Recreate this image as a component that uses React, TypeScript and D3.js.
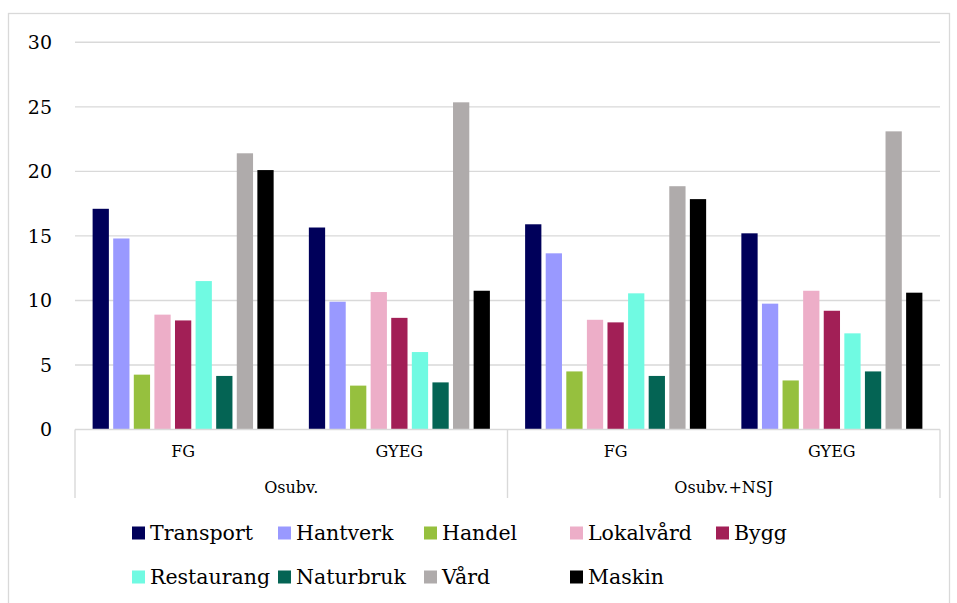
import React from "react";
import * as d3 from "d3";

const groups = ["Osubv.", "Osubv.+NSJ"];
const categories = ["Osubv.|FG", "Osubv.|GYEG", "Osubv.+NSJ|FG", "Osubv.+NSJ|GYEG"];
const seriesNames = ["Transport", "Hantverk", "Handel", "Lokalvård", "Bygg", "Restaurang", "Naturbruk", "Vård", "Maskin"];
const seriesColors = ["#00005a", "#9999ff", "#96c03e", "#edaec8", "#a21f56", "#70fae2", "#046454", "#afabab", "#000000"];
const transport = [17.1, 15.65, 15.9, 15.2];
const hantverk = [14.8, 9.9, 13.65, 9.75];
const handel = [4.25, 3.4, 4.5, 3.8];
const lokalvard = [8.9, 10.65, 8.5, 10.75];
const bygg = [8.45, 8.65, 8.3, 9.2];
const restaurang = [11.5, 6.0, 10.55, 7.45];
const naturbruk = [4.15, 3.65, 4.15, 4.5];
const vard = [21.4, 25.35, 18.85, 23.1];
const maskin = [20.1, 10.75, 17.85, 10.6];
const seriesValues = [transport, hantverk, handel, lokalvard, bygg, restaurang, naturbruk, vard, maskin];
const yTicks = [0, 5, 10, 15, 20, 25, 30];

const FONT = "'DejaVu Serif', Georgia, serif";

export default function App() {
  const left = 75, right = 940, top = 42.3, bottom = 429.5;
  const y = d3.scaleLinear().domain([0, 30]).range([bottom, top]);
  const x0 = d3.scaleBand<string>().domain(categories).range([left, right]).paddingInner(0).paddingOuter(0);
  const x1 = d3.scaleBand<string>().domain(seriesNames).range([0, x0.bandwidth()]).paddingInner(0.21).paddingOuter(0.855);
  const groupScale = d3.scaleBand<string>().domain(groups).range([left, right]);

  const legendCols = [132, 278, 424, 570, 716];
  const legendRows = [533, 577];

  return (
    <svg width={957} height={603} style={{ position: "absolute", left: 0, top: 0, background: "#fff" }} fontFamily={FONT}>
      <rect x={8.5} y={13.5} width={941} height={600} fill="#fff" stroke="#d9d9d9" strokeWidth={1.3} />
      {yTicks.map((t) => (
        <g key={t}>
          {t > 0 && <line x1={left} x2={right} y1={y(t)} y2={y(t)} stroke="#d9d9d9" strokeWidth={1.4} />}
          <text x={52} y={y(t)} dy="0.36em" textAnchor="end" fontSize={19} fill="#000">{t}</text>
        </g>
      ))}
      {categories.map((c, ci) => (
        <g key={c}>
          {seriesNames.map((s, si) => {
            const v = seriesValues[si][ci];
            return (
              <rect key={s} x={(x0(c) ?? 0) + (x1(s) ?? 0)} y={y(v)} width={x1.bandwidth()} height={y(0) - y(v)} fill={seriesColors[si]} />
            );
          })}
          <text x={(x0(c) ?? 0) + x0.bandwidth() / 2} y={457} textAnchor="middle" fontSize={16} fill="#000">{c.split("|")[1]}</text>
        </g>
      ))}
      <line x1={left} x2={right} y1={y(0)} y2={y(0)} stroke="#d9d9d9" strokeWidth={1.4} />
      {[left, (groupScale(groups[1]) ?? 0), right].map((xv, i) => (
        <line key={i} x1={xv} x2={xv} y1={y(0)} y2={498} stroke="#d9d9d9" strokeWidth={1.4} />
      ))}
      {groups.map((g) => (
        <text key={g} x={(groupScale(g) ?? 0) + groupScale.bandwidth() / 2} y={493} textAnchor="middle" fontSize={16} fill="#000">{g}</text>
      ))}
      {seriesNames.map((s, i) => {
        const col = i < 5 ? i : i - 5;
        const row = i < 5 ? 0 : 1;
        const lx = legendCols[col];
        const ly = legendRows[row];
        return (
          <g key={s}>
            <rect x={lx} y={ly - 6.5} width={13} height={13} fill={seriesColors[i]} />
            <text x={lx + 18} y={ly} dy="0.36em" fontSize={20.5} fill="#000">{s}</text>
          </g>
        );
      })}
    </svg>
  );
}
